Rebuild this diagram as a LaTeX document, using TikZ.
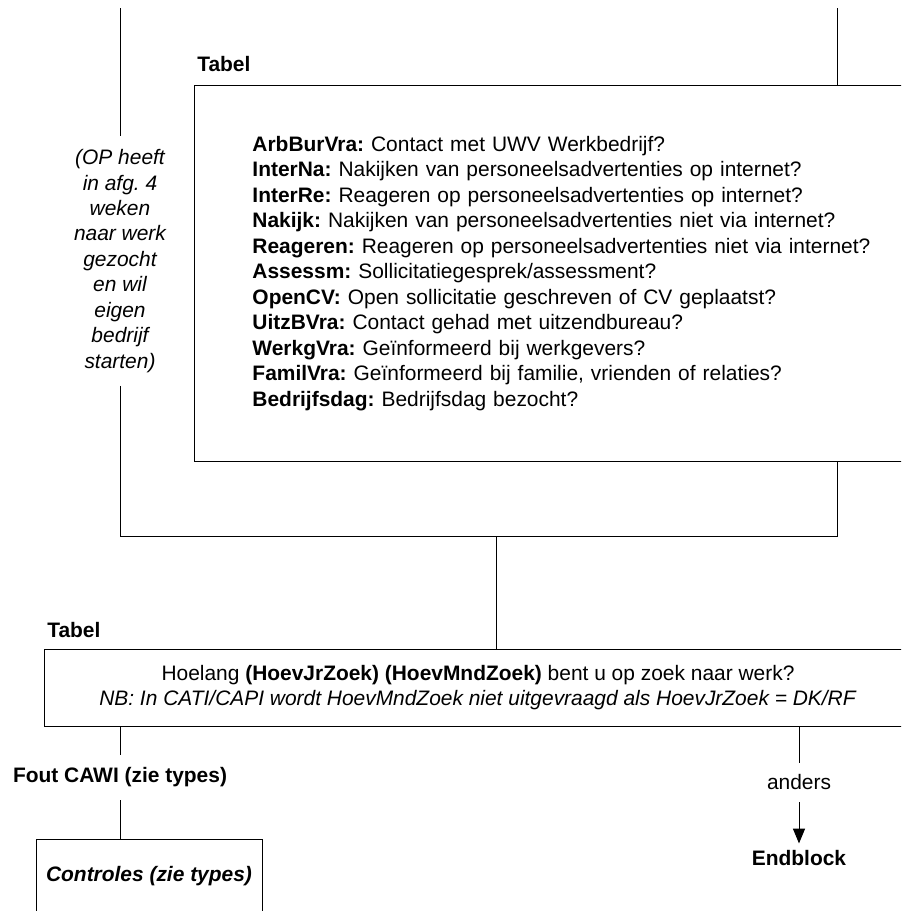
\documentclass[tikz,border=0pt]{standalone}
\usepackage{fontspec}
\setmainfont{Liberation Sans}
\usetikzlibrary{arrows.meta}
\frenchspacing

\begin{document}
\begin{tikzpicture}[
	x=0.75pt, y=-0.75pt,
	every node/.style={ font=\fontsize{15.7}{19.1}\selectfont },
	box/.style={ rectangle, draw, line width=0.7pt },
	lbl/.style={ inner sep=0pt, anchor=west, font=\fontsize{15.7}{19.1}\selectfont\bfseries },
	note/.style={ align=center, inner xsep=2pt, inner ysep=9.8pt, font=\fontsize{15.7}{19.1}\selectfont\itshape },
	cond/.style={ inner xsep=2pt, inner ysep=8.7pt },
	line/.style={ line width=0.7pt }
]

\clip (0,0) rectangle (901,911);

\coordinate (top1) at (120,8);
\coordinate (top2) at (837,8);
\coordinate (c1) at (120,536);
\coordinate (c2) at (837,536);
\coordinate (m) at (496,536);

\node[lbl] at (197,64) (tab1) {Tabel};
\node[box, anchor=north west, text width=487.5pt, inner xsep=43.5pt, minimum height=282pt, align=left] at (194,85) (b1) {%
\textbf{ArbBurVra:} Contact met UWV Werkbedrijf?\\
\textbf{InterNa:} Nakijken van personeelsadvertenties op internet?\\
\textbf{InterRe:} Reageren op personeelsadvertenties op internet?\\
\textbf{Nakijk:} Nakijken van personeelsadvertenties niet via internet?\\
\textbf{Reageren:} Reageren op personeelsadvertenties niet via internet?\\
\textbf{Assessm:} Sollicitatiegesprek/assessment?\\
\textbf{OpenCV:} Open sollicitatie geschreven of CV geplaatst?\\
\textbf{UitzBVra:} Contact gehad met uitzendbureau?\\
\textbf{WerkgVra:} Geïnformeerd bij werkgevers?\\
\textbf{FamilVra:} Geïnformeerd bij familie, vrienden of relaties?\\
\textbf{Bedrijfsdag:} Bedrijfsdag bezocht?};

\node[note] at (120,261) (opnote) {(OP heeft\\in afg. 4\\weken\\naar werk\\gezocht\\en wil\\eigen\\bedrijf\\starten)};

\node[lbl] at (47,630) (tab2) {Tabel};
\node[box, minimum width=651pt, minimum height=57.75pt, align=center] at (478,687.5) (b2) {%
Hoelang \textbf{(HoevJrZoek) (HoevMndZoek)} bent u op zoek naar werk?\\
\textit{NB: In CATI/CAPI wordt HoevMndZoek niet uitgevraagd als HoevJrZoek = DK/RF}};

\node[cond, inner ysep=9.7pt, font=\fontsize{15.7}{19.1}\selectfont\bfseries] at (120,777.5) (fout) {Fout CAWI (zie types)};
\node[box, minimum width=169.5pt, minimum height=55.5pt, font=\fontsize{15.7}{19.1}\selectfont\bfseries\itshape] at (149,876) (b3) {Controles (zie types)};

\node[cond] at (799,782.5) (anders) {anders};
\node[inner sep=5pt, font=\fontsize{15.7}{19.1}\selectfont\bfseries] at (799,858) (endb) {Endblock};

\draw[line] (top1) -- (opnote);
\draw[line] (opnote) -- (c1) -- (c2) -- (b1.south -| c2);
\draw[line] (top2) -- (b1.north -| top2);
\draw[line] (m) -- (m |- b2.north);
\draw[line] (b2.south -| fout) -- (fout);
\draw[line] (fout.south) -- (fout.south |- b3.north);
\draw[line] (b2.south -| anders) -- (anders);
\draw[line, -{Triangle[length=11pt, width=9pt]}] (anders) -- (endb);

\end{tikzpicture}
\end{document}
